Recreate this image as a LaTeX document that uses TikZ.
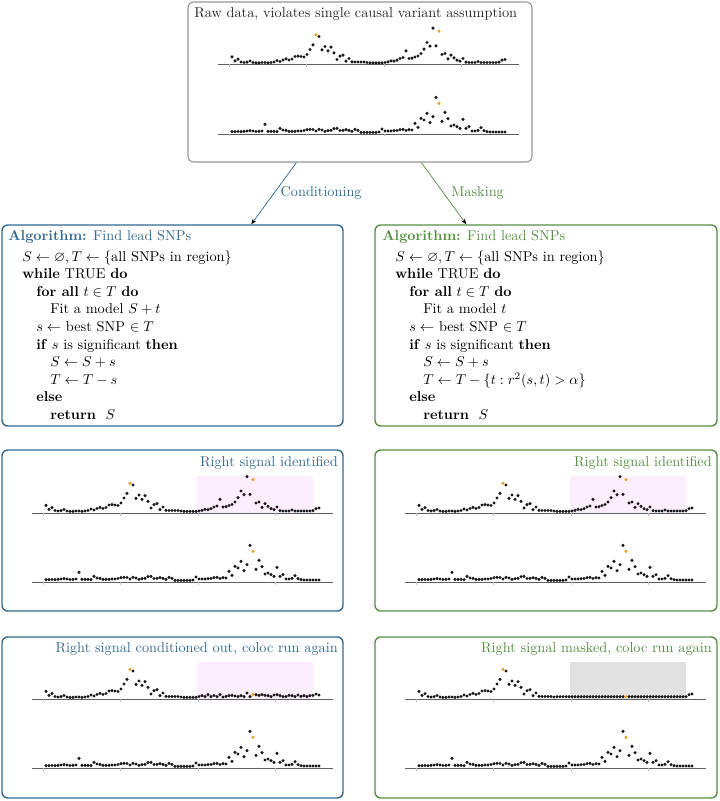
\documentclass[tikz,border=0pt]{standalone}
\usepackage{amssymb}
\usetikzlibrary{fit,calc,arrows.meta}
\definecolor{cblue}{RGB}{50,106,146}
\definecolor{cgreen}{RGB}{86,142,66}
\definecolor{cgray}{RGB}{150,150,150}
\definecolor{dotc}{RGB}{25,25,25}
\definecolor{dotor}{RGB}{240,160,30}
\definecolor{shpink}{RGB}{252,238,252}
\definecolor{shgray}{RGB}{226,226,226}
\definecolor{axisc}{RGB}{95,95,95}
\def\dataU{7.7,3.7,5.3,2.5,2,2.3,3.5,2,1.7,1.7,2,2,1.7,2,2.5,4,3,4.5,5.7,4.5,5.5,8,8.3,8,7.5,10,15,19.7,29.7,28,14.7,18,13.7,17.3,11.7,5,8.3,9.3,3.3,6,2.7,2.5,2.5,2.5,2.5,2,1.7,1.7,1.7,1.7,1.7,2,2.7,3.7,3.3,4.3,6,7,13.7,6,6.3,7.5,8.5,11,15.3,22,18.3,36.3,18.7,33.3,10,11,5.7,9.3,6.7,4.3,3.3,6,2.3,2,2,2,3,2,2,2,2,2,2,2.3,4.3,5}
\def\dataL{2.3,2.3,2.5,2.3,2.7,3,3.3,3,2.5,2.7,3,9.7,2.7,2.7,2.7,2.3,5.7,4,3.7,2.7,2.7,2.7,3,3,3.5,4.3,4.7,4.5,3,4.7,4,2.7,3.3,3.7,5.3,5.7,3.5,3.7,4.3,3.7,2.7,4.7,3.7,1.7,1.7,1.7,1.7,1.7,1.7,2,5,3,3,3,3.3,3.5,4.3,4.7,3.5,4.3,4,10.7,6.7,15.7,14,20.7,11.3,17.3,36.7,30.7,12.7,21.7,15.3,8,9,7.3,5.7,14.7,5.7,7.3,3,3,3.7,6.3,3.3,2.3,2,2,2,2,2,2}
\def\dataC{7.7,3.7,5.3,2.5,2,2.3,3.5,2,1.7,1.7,2,2,1.7,2,2.5,4,3,4.5,5.7,4.5,5.5,8,8.3,8,7.5,10,15,19.7,29.7,28,14.7,18,13.7,17.3,11.7,5,8.3,9.3,3.3,6,2.7,2.5,2.5,2.5,2.5,2,1.7,1.7,1.7,1.7,1.7,2.5,3.3,2.3,4.3,2.3,3.5,2.3,4.3,2,2.7,3.3,3.7,3,2.3,3.3,2.3,6,2.3,4.3,4.3,3.7,4.3,3.7,3.3,2.3,4,4.3,3.3,2.3,2.3,3.7,3.3,2.3,4,2.7,3.3,2.3,3.3,3.7,5,4}
\def\dataM{7.7,3.7,5.3,2.5,2,2.3,3.5,2,1.7,1.7,2,2,1.7,2,2.5,4,3,4.5,5.7,4.5,5.5,8,8.3,8,7.5,10,15,19.7,29.7,28,14.7,18,13.7,17.3,11.7,5,8.3,9.3,3.3,6,2.7,2.5,2.5,2.5,2.5,2,2.3,2.3,2.3,2.3,2.3,2.3,2.3,2.3,2.3,2.3,2.3,2.3,2.3,2.3,2.3,2.3,2.3,2.3,2.3,2.3,2.3,2.3,2.3,2.3,2.3,2.3,2.3,2.3,2.3,2.3,2.3,2.3,2.3,2.3,2.3,2.3,2.3,2.3,2.3,2.3,2.3,2.3,2.3,2.3,4.3,5}
\newcommand{\snpplot}[5]{%
  \draw[axisline] (#1,#2) -- ++(301,0);
  \foreach \tk in {11,88,166,243}{\draw[tickline] (#1+\tk,#2) -- ++(0,2.5);}
  \foreach \h [count=\i from 0] in #3 {%
    \def\dcol{dotc}%
    \ifnum\i=#4 \def\dcol{dotor}\fi
    \ifnum\i=#5 \def\dcol{dotor}\fi
    \fill[fill=\dcol] (#1+14+3*\i,#2-\h) circle[radius=1.2pt];
  }%
}
\newcommand{\shadebox}[3]{\fill[fill=#3] (#1+165,#2-37) rectangle (#1+281,#2);}
\newcommand{\algline}[4]{\node[algtext] (#1) at (#2,#3) {#4};}
\begin{document}
\begin{tikzpicture}[x=0.70pt,y=-0.70pt,
  panel/.style={draw, rounded corners=4pt, line width=1pt, inner sep=0pt},
  bluebox/.style={panel, draw=cblue},
  greenbox/.style={panel, draw=cgreen},
  graybox/.style={panel, draw=cgray, line width=0.8pt},
  algtext/.style={inner sep=0pt, anchor=base west},
  ptitle/.style={inner sep=0pt, anchor=base east},
  axisline/.style={draw=axisc, line width=0.6pt},
  tickline/.style={draw=black!25, line width=0.4pt},
  conn/.style={line width=0.5pt, -{Stealth[length=4pt,width=3pt,color=black]}},
]
\useasboundingbox (0,0) rectangle (720,801);

% ---------- raw data box ----------
\coordinate (rawA) at (188,2); \coordinate (rawB) at (532,162);
\node[graybox, fit=(rawA)(rawB)] (raw) {};
\node[anchor=base west, inner sep=0pt, text=black!85] (rawtitle) at (194,18) {Raw data, violates single causal variant assumption};
\snpplot{218}{64.5}{\dataU}{28}{69}
\snpplot{218}{134}{\dataL}{-1}{69}

% ---------- algorithm boxes ----------
\coordinate (aLa) at (2,225); \coordinate (aLb) at (343,426);
\node[bluebox, fit=(aLa)(aLb)] (algL) {};
\coordinate (aRa) at (375,225); \coordinate (aRb) at (717,426);
\node[greenbox, fit=(aRa)(aRb)] (algR) {};

\node[algtext, text=cblue] (hL) at (8,240) {\textbf{Algorithm:} Find lead SNPs};
\algline{l1}{22}{261}{$S \leftarrow \varnothing, T \leftarrow \{$all SNPs in region$\}$}
\algline{l2}{22}{278.6}{\textbf{while} TRUE \textbf{do}}
\algline{l3}{36}{296.2}{\textbf{for all} $t \in T$ \textbf{do}}
\algline{l4}{50}{313.8}{Fit a model $S + t$}
\algline{l5}{36}{331.4}{$s \leftarrow$ best SNP $\in T$}
\algline{l6}{36}{349}{\textbf{if} $s$ is significant \textbf{then}}
\algline{l7}{50}{366.6}{$S \leftarrow S + s$}
\algline{l8}{50}{384.2}{$T \leftarrow T - s$}
\algline{l9}{36}{401.8}{\textbf{else}}
\algline{l10}{50}{419.4}{\textbf{return}\ \ $S$}

\node[algtext, text=cgreen] (hR) at (382,240) {\textbf{Algorithm:} Find lead SNPs};
\algline{r1}{395}{261}{$S \leftarrow \varnothing, T \leftarrow \{$all SNPs in region$\}$}
\algline{r2}{395}{278.6}{\textbf{while} TRUE \textbf{do}}
\algline{r3}{409}{296.2}{\textbf{for all} $t \in T$ \textbf{do}}
\algline{r4}{423}{313.8}{Fit a model $t$}
\algline{r5}{409}{331.4}{$s \leftarrow$ best SNP $\in T$}
\algline{r6}{409}{349}{\textbf{if} $s$ is significant \textbf{then}}
\algline{r7}{423}{366.6}{$S \leftarrow S + s$}
\algline{r8}{423}{384.2}{$T \leftarrow T - \{t : r^2(s,t) > \alpha\}$}
\algline{r9}{409}{401.8}{\textbf{else}}
\algline{r10}{423}{419.4}{\textbf{return}\ \ $S$}

% ---------- connectors ----------
\draw[conn, draw=cblue] ($(raw.south west)+(109,0)$) -- node[pos=0.5, anchor=west, inner sep=0pt, xshift=4.5pt, text=cblue] (labC) {Conditioning} ($(algL.north west)+(250,0)$);
\draw[conn, draw=cgreen] ($(raw.south west)+(234,0)$) -- node[pos=0.5, anchor=west, inner sep=0pt, xshift=5pt, text=cgreen] (labM) {Masking} ($(algR.north west)+(92,0)$);

% ---------- middle panels ----------
\coordinate (mLa) at (2,450); \coordinate (mLb) at (343,611);
\node[bluebox, fit=(mLa)(mLb)] (pML) {};
\node[ptitle, text=cblue] (tML) at (338,466) {Right signal identified};
\shadebox{32}{513}{shpink}
\snpplot{32}{513}{\dataU}{28}{69}
\snpplot{32}{582}{\dataL}{-1}{69}

\coordinate (mRa) at (375,450); \coordinate (mRb) at (717,611);
\node[greenbox, fit=(mRa)(mRb)] (pMR) {};
\node[ptitle, text=cgreen] (tMR) at (712,466) {Right signal identified};
\shadebox{405}{513}{shpink}
\snpplot{405}{513}{\dataU}{28}{69}
\snpplot{405}{582}{\dataL}{-1}{69}

% ---------- bottom panels ----------
\coordinate (bLa) at (2,637); \coordinate (bLb) at (343,798);
\node[bluebox, fit=(bLa)(bLb)] (pBL) {};
\node[ptitle, text=cblue] (tBL) at (338,652) {Right signal conditioned out, coloc run again};
\shadebox{32}{699}{shpink}
\snpplot{32}{699}{\dataC}{28}{69}
\snpplot{32}{768}{\dataL}{-1}{69}

\coordinate (bRa) at (375,637); \coordinate (bRb) at (717,798);
\node[greenbox, fit=(bRa)(bRb)] (pBR) {};
\node[ptitle, text=cgreen] (tBR) at (712,652) {Right signal masked, coloc run again};
\shadebox{405}{699}{shgray}
\snpplot{405}{699}{\dataM}{28}{69}
\snpplot{405}{768}{\dataL}{-1}{69}
\end{tikzpicture}
\end{document}
